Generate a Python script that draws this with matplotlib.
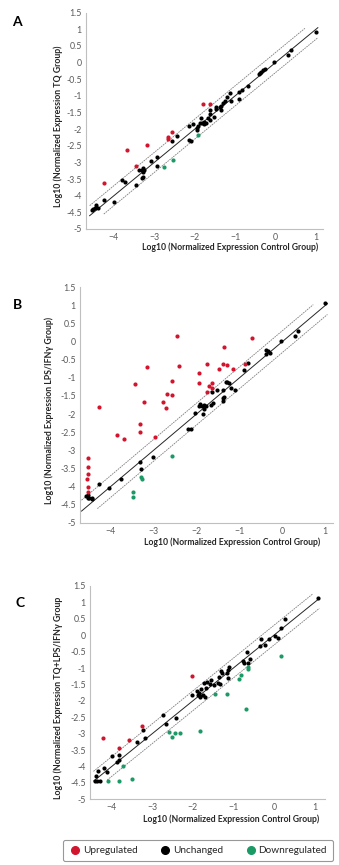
import matplotlib.pyplot as plt
from matplotlib.lines import Line2D

plt.rcParams['font.family'] = ['Lato', 'DejaVu Sans']

# ---- panel A : TQ vs control ----
a_up_x = [-1.63, -1.80, -2.55, -2.67, -2.65, -3.18, -3.68, -3.46, -4.24]
a_up_y = [-1.25, -1.25, -2.10, -2.24, -2.30, -2.49, -2.62, -3.12, -3.61]
a_down_x = [-1.91, -2.53, -2.75]
a_down_y = [-2.19, -2.92, -3.14]
a_same_x = [1.0, 0.38, 0.30, -0.03, -0.26, -0.31, -0.35, -0.38, -0.40, -0.67,
            -0.82, -0.90, -0.90, -1.13, -1.19, -1.10, -1.24, -1.29, -1.34, -1.38,
            -1.34, -1.46, -1.61, -1.62, -1.52, -1.85, -1.63, -1.67, -1.77, -1.82,
            -1.87, -1.91, -1.94, -1.93, -2.04, -2.15, -2.15, -2.10, -2.43, -2.55,
            -2.94, -3.09, -2.94, -3.27, -3.31, -3.26, -3.29, -3.38, -3.27, -3.30,
            -3.80, -3.73, -3.46, -4.24, -3.99, -4.51, -4.54, -4.47, -4.40, -4.45,
            -1.72, -1.78, -1.48]
a_same_y = [0.91, 0.37, 0.24, 0.02, -0.18, -0.22, -0.28, -0.31, -0.33, -0.70,
            -0.82, -0.88, -1.10, -0.92, -1.02, -1.15, -1.14, -1.22, -1.29, -1.34,
            -1.42, -1.34, -1.42, -1.55, -1.62, -1.67, -1.72, -1.67, -1.77, -1.82,
            -1.82, -1.90, -1.97, -2.02, -1.85, -1.89, -2.34, -2.36, -2.22, -2.35,
            -2.84, -2.97, -3.10, -3.17, -3.22, -3.24, -3.28, -3.24, -3.43, -3.46,
            -3.54, -3.59, -3.67, -4.12, -4.18, -4.39, -4.44, -4.37, -4.37, -4.29,
            -1.80, -1.85, -1.40]

# ---- panel B : LPS/IFNg vs control ----
b_up_x = [-2.45, -0.70, -1.35, -3.15, -2.40, -1.76, -1.94, -1.39, -1.30, -1.48,
          -1.14, -0.88, -3.43, -2.57, -1.94, -1.63, -1.70, -1.65, -1.75, -2.69,
          -2.57, -4.28, -3.22, -2.78, -2.70, -3.31, -3.32, -3.85, -3.70, -2.96,
          -4.54, -4.54, -4.53, -4.55, -4.53, -4.54]
b_up_y = [0.16, 0.09, -0.14, -0.70, -0.66, -0.63, -0.86, -0.63, -0.65, -0.75,
          -0.75, -0.62, -1.18, -1.10, -1.14, -1.15, -1.23, -1.28, -1.40, -1.46,
          -1.48, -1.80, -1.67, -1.67, -1.82, -2.28, -2.50, -2.57, -2.69, -2.63,
          -3.21, -3.46, -3.66, -3.79, -4.02, -4.16]
b_down_x = [-2.56, -3.29, -3.27, -3.49, -3.49]
b_down_y = [-3.15, -3.75, -3.79, -4.15, -4.28]
b_same_x = [0.99, 0.37, 0.29, -0.03, -0.37, -0.33, -0.29, -0.39, -0.80, -0.90,
            -1.10, -1.20, -1.32, -1.28, -1.24, -1.38, -1.39, -1.39, -1.37, -1.52,
            -1.64, -1.62, -1.67, -1.83, -1.78, -1.88, -1.83, -1.84, -1.95, -1.93,
            -2.04, -2.14, -2.19, -3.02, -3.29, -3.32, -3.76, -4.27, -4.04, -4.54,
            -4.50, -4.44, -4.57, -4.43, -4.52]
b_same_y = [1.06, 0.28, 0.16, 0.03, -0.23, -0.26, -0.32, -0.34, -0.60, -0.78,
            -1.34, -1.29, -1.11, -1.12, -1.14, -1.34, -1.57, -1.63, -1.52, -1.34,
            -1.38, -1.70, -1.75, -1.74, -1.78, -1.78, -1.85, -2.00, -1.78, -1.72,
            -1.98, -2.40, -2.42, -3.18, -3.53, -3.33, -3.80, -3.94, -4.05, -4.24,
            -4.33, -4.32, -4.27, -4.35, -4.31]

# ---- panel C : TQ+LPS/IFNg vs control ----
c_up_x = [-2.03, -3.25, -3.58, -3.81, -4.21]
c_up_y = [-1.23, -2.76, -3.20, -3.43, -3.13]
c_down_x = [0.18, -0.63, -0.63, -0.81, -0.87, -1.46, -1.15, -0.70, -1.83, -2.59,
            -2.52, -2.43, -2.31, -3.71, -3.51, -3.83, -4.08]
c_down_y = [-0.63, -0.96, -1.04, -1.20, -1.34, -1.79, -1.79, -2.24, -2.93, -2.96,
            -3.09, -2.99, -2.99, -4.00, -4.37, -4.43, -4.43]
c_same_x = [1.08, 0.28, 0.18, 0.09, 0.02, -0.13, -0.22, -0.31, -0.34, -0.66,
            -0.60, -0.63, -0.75, -0.73, -1.11, -1.13, -1.15, -1.13, -1.31, -1.29,
            -1.36, -1.37, -1.34, -1.47, -1.55, -1.57, -1.64, -1.73, -1.67, -1.80,
            -1.84, -1.87, -1.82, -1.75, -1.69, -1.90, -2.02, -1.83, -2.73, -2.66,
            -2.42, -3.24, -3.19, -3.37, -3.83, -3.83, -3.88, -4.00, -4.20, -4.11,
            -4.35, -4.39, -4.40, -4.37, -4.30]
c_same_y = [1.12, 0.48, 0.23, -0.07, -0.01, -0.12, -0.29, -0.11, -0.34, -0.50,
            -0.73, -0.86, -0.80, -0.86, -0.96, -1.06, -1.16, -1.31, -1.09, -1.14,
            -1.28, -1.46, -1.50, -1.52, -1.36, -1.48, -1.44, -1.46, -1.61, -1.65,
            -1.75, -1.82, -1.85, -1.82, -1.89, -1.70, -1.83, -1.89, -2.44, -2.72,
            -2.52, -2.90, -3.12, -3.25, -3.65, -3.80, -3.86, -3.68, -4.06, -4.17,
            -4.15, -4.29, -4.43, -4.43, -4.43]

y_ticks = [1.5, 1, 0.5, 0, -0.5, -1, -1.5, -2, -2.5, -3, -3.5, -4, -4.5, -5]
x_ticks = [-4, -3, -2, -1, 0, 1]
fold = 0.301  # log10(2)

red = '#d2152e'
green = '#1b9a66'
grid_grey = '#bfbfbf'
txt = '#595959'

fig = plt.figure(figsize=(3.39, 8.65), dpi=100)

panels = [
    dict(rect=[86 / 339, 1 - 229 / 865, 236.7 / 339, 216.3 / 865], xlim=(-4.69, 1.17),
         up=(a_up_x, a_up_y), down=(a_down_x, a_down_y), same=(a_same_x, a_same_y),
         ylab='Log10 (Normalized Expression TQ Group)', letter='A', lpos=(17, 22),
         ylab_x=58, xlab_dy=18, lines=[(-4.6, 0.73), (-4.6, 1.05), (-4.25, 1.05)]),
    dict(rect=[80 / 339, 1 - 522.7 / 865, 253 / 339, 235.4 / 865], xlim=(-4.715, 1.18),
         up=(b_up_x, b_up_y), down=(b_down_x, b_down_y), same=(b_same_x, b_same_y),
         ylab='Log10 (Normalized Expression LPS/IFNγ Group)', letter='B', lpos=(17, 305),
         ylab_x=49, xlab_dy=20, lines=[(-4.68, 0.72), (-4.68, 1.05), (-4.31, 1.05)]),
    dict(rect=[90 / 339, 1 - 799.3 / 865, 235 / 339, 213.3 / 865], xlim=(-4.535, 1.26),
         up=(c_up_x, c_up_y), down=(c_down_x, c_down_y), same=(c_same_x, c_same_y),
         ylab='Log10 (Normalized Expression TQ+LPS/IFNγ Group', letter='C', lpos=(20, 603),
         ylab_x=58, xlab_dy=20, lines=[(-4.45, 0.95), (-4.44, 1.12), (-4.11, 1.12)]),
]

for p in panels:
    ax = fig.add_axes(p['rect'])
    ax.set_xlim(*p['xlim'])
    ax.set_ylim(-5, 1.5)
    (u0, u1), (m0, m1), (l0, l1) = p['lines']
    ax.plot([u0, u1], [u0 + fold, u1 + fold], color='#7f7f7f', lw=0.6, ls=(0, (2, 1)), zorder=1)
    ax.plot([m0, m1], [m0, m1], color='#262626', lw=0.7, zorder=1)
    ax.plot([l0, l1], [l0 - fold, l1 - fold], color='#7f7f7f', lw=0.6, ls=(0, (2, 1)), zorder=1)
    ax.scatter(*p['same'], s=9, color='black', lw=0, zorder=3)
    ax.scatter(*p['up'], s=9, color=red, lw=0, zorder=3)
    ax.scatter(*p['down'], s=9, color=green, lw=0, zorder=3)
    ax.set_xticks(x_ticks)
    ax.set_yticks(y_ticks)
    ax.set_yticklabels([('%g' % v) for v in y_ticks])
    ax.tick_params(length=0, labelsize=6.3, colors=txt, pad=3)
    for s in ['top', 'right']:
        ax.spines[s].set_visible(False)
    for s in ['left', 'bottom']:
        ax.spines[s].set_color(grid_grey)
        ax.spines[s].set_linewidth(0.8)
    # axis titles
    x0, y0, w, h = p['rect']
    bottom_px = (1 - y0) * 865
    fig.text(230 / 339 if p['letter'] == 'A' else (x0 + w * 0.6), 1 - (bottom_px + p['xlab_dy']) / 865,
             'Log10 (Normalized Expression Control Group)', ha='center', va='center',
             fontsize=6.2, fontweight='bold', color='#262626')
    fig.text(p['ylab_x'] / 339, y0 + h / 2 - 0.006, p['ylab'], rotation=90, ha='center', va='center',
             fontsize=6.3, fontweight='bold', color='#262626')
    fig.text(p['lpos'][0] / 339, 1 - p['lpos'][1] / 865, p['letter'], ha='center', va='center',
             fontsize=10, fontweight='bold', color='black')

handles = [Line2D([], [], marker='o', ls='', color=c, markersize=5.5)
           for c in [red, 'black', green]]
leg = fig.legend(handles, ['Upregulated', 'Unchanged', 'Downregulated'], ncol=3,
                 loc='center', bbox_to_anchor=(58 / 339, 1 / 865, 280 / 339, 27 / 865),
                 mode='expand', fontsize=7.2, frameon=True, fancybox=True,
                 handletextpad=0.2, borderpad=0.6, handlelength=1.2)
leg.get_frame().set_edgecolor('#7f7f7f')
leg.get_frame().set_linewidth(0.8)
for t in leg.get_texts():
    t.set_color('#262626')

fig.savefig('out.png', dpi=100)
